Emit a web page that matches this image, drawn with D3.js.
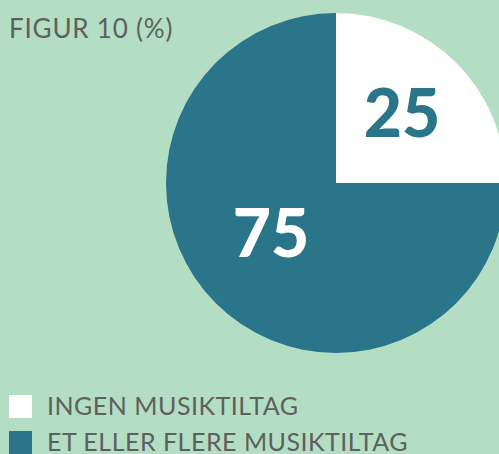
<!DOCTYPE html>
<html>
<head>
    <script src="https://d3js.org/d3.v7.min.js"></script>
    <style>
        body { margin: 0; background: #b3dec4; }
        svg { display: block; }
    </style>
</head>
<body>
    <script type="text/javascript">

        // data
        var categories = ["INGEN MUSIKTILTAG", "ET ELLER FLERE MUSIKTILTAG"];
        var values = [25, 75];
        var colors = ["#ffffff", "#2a7589"];
        var labelColors = ["#2a7589", "#ffffff"];

        var width = 499, height = 454;
        var cx = 336, cy = 183, radius = 170;

        var svg = d3.select("body")
            .append("svg")
            .attr("width", width)
            .attr("height", height);

        // background
        svg.append("rect")
            .attr("width", width)
            .attr("height", height)
            .attr("fill", "#b3dec4");

        // title
        svg.append("text")
            .attr("x", 9)
            .attr("y", 38)
            .style("font-family", "Lato")
            .style("font-size", "26px")
            .style("letter-spacing", "0.8px")
            .style("fill", "#5d605e")
            .text("FIGUR 10 (%)");

        var pie = d3.pie().sort(null).value(function (d) { return d; });
        var arc = d3.arc().innerRadius(0).outerRadius(radius);

        var g = svg.append("g")
            .attr("transform", "translate(" + cx + "," + cy + ")");

        var arcs = pie(values);

        g.selectAll("path")
            .data(arcs)
            .enter()
            .append("path")
            .attr("d", arc)
            .attr("fill", function (d, i) { return colors[i]; });

        // slice labels
        g.selectAll("text.val")
            .data(arcs)
            .enter()
            .append("text")
            .attr("class", "val")
            .attr("x", function (d, i) { return i == 0 ? 66 : -65; })
            .attr("y", function (d, i) { return i == 0 ? -46 : 74; })
            .attr("text-anchor", "middle")
            .style("font-family", "Lato")
            .style("font-weight", "900")
            .style("font-size", "66px")
            .style("fill", function (d, i) { return labelColors[i]; })
            .text(function (d) { return d.data; });

        // legend
        var legend = svg.selectAll("g.legend")
            .data(categories)
            .enter()
            .append("g")
            .attr("class", "legend")
            .attr("transform", function (d, i) { return "translate(9," + (395 + i * 36) + ")"; });

        legend.append("rect")
            .attr("width", 23)
            .attr("height", 23)
            .attr("fill", function (d, i) { return colors[i]; });

        legend.append("text")
            .attr("x", 38)
            .attr("y", 20)
            .style("font-family", "Lato")
            .style("font-size", "25px")
            .style("letter-spacing", "0.5px")
            .style("fill", "#5d605e")
            .text(function (d) { return d; });

    </script>
</body>
</html>
